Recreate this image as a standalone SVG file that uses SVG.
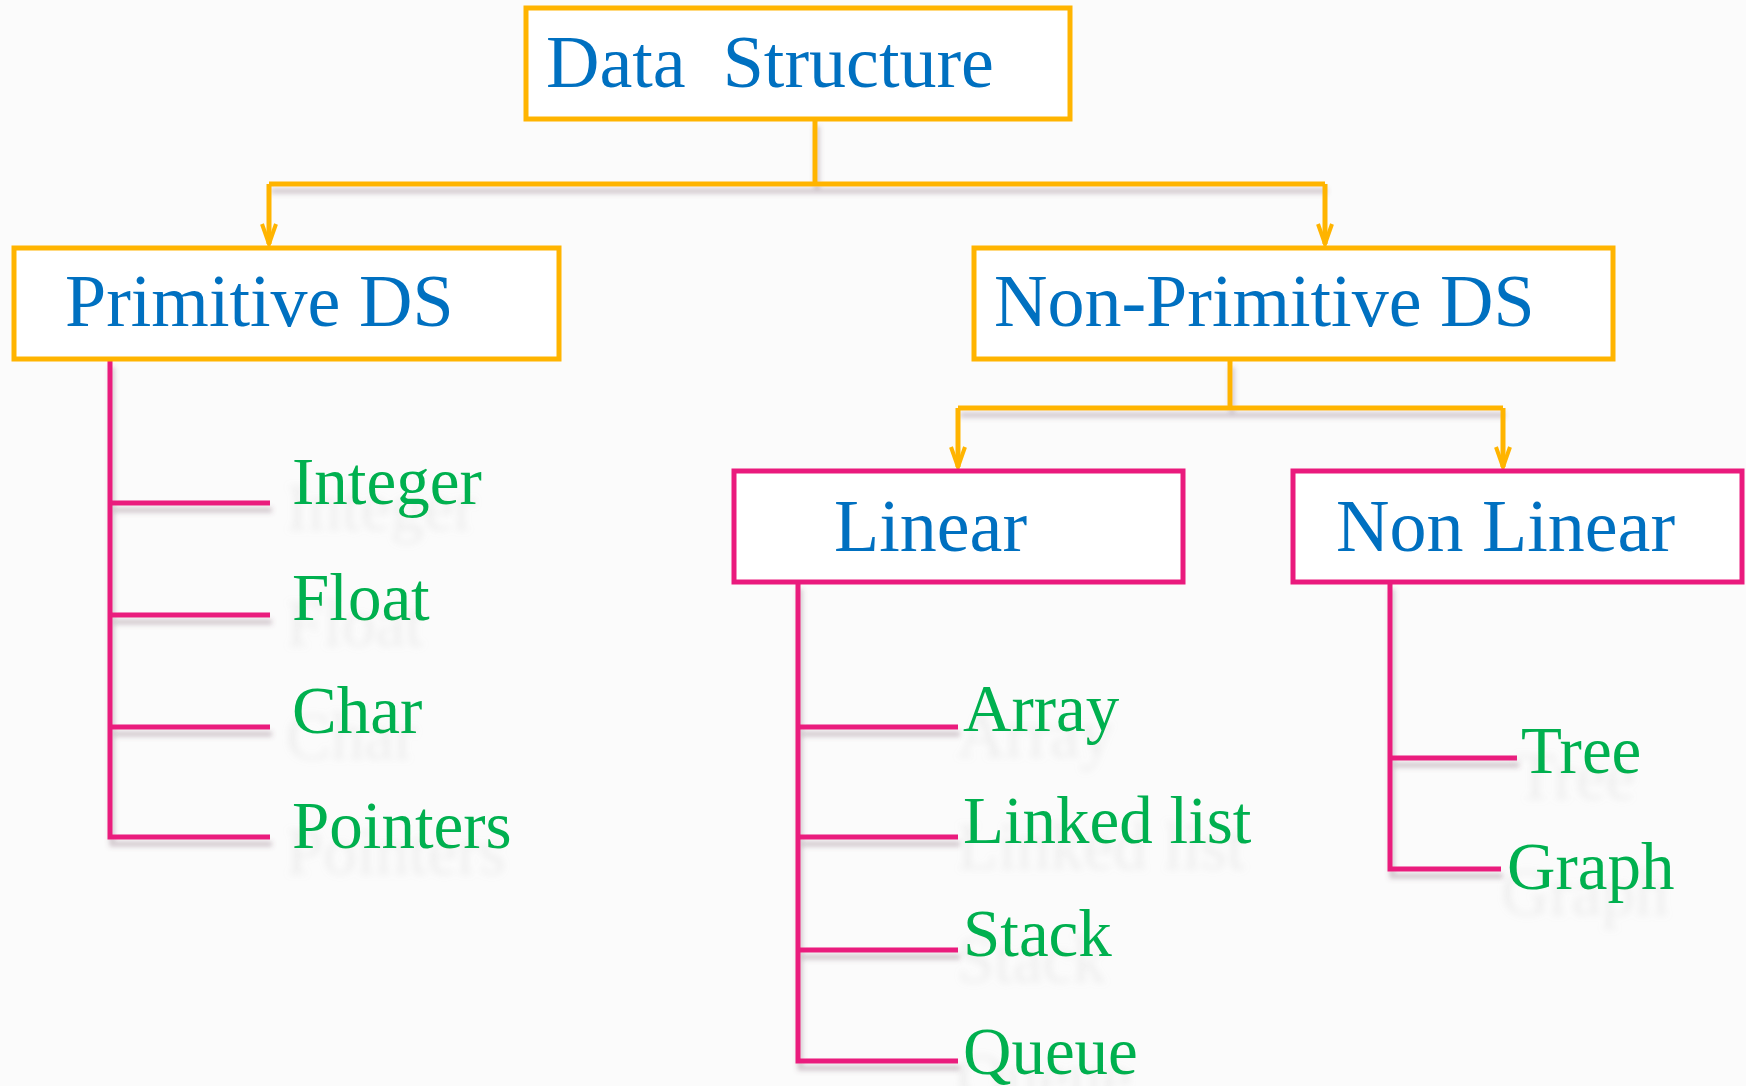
<svg xmlns="http://www.w3.org/2000/svg" width="1746" height="1086" viewBox="0 0 1746 1086">
<defs>
<marker id="chev" viewBox="-24 -12 28 24" markerWidth="28" markerHeight="24" refX="0" refY="0" orient="auto" markerUnits="userSpaceOnUse" overflow="visible">
<path d="M-20,-7 L0,0 L-20,7" fill="none" stroke="#FFB400" stroke-width="4" stroke-linejoin="miter"/>
</marker>
<filter id="lsh" x="-5%" y="-20%" width="110%" height="160%">
<feDropShadow dx="2" dy="7" stdDeviation="2.5" flood-color="#6b4a5a" flood-opacity="0.3"/>
</filter>
<filter id="tsh" x="-10%" y="-20%" width="120%" height="180%">
<feOffset in="SourceAlpha" dx="-6" dy="26" result="o"/>
<feGaussianBlur in="o" stdDeviation="3.5" result="b"/>
<feColorMatrix in="b" type="matrix" values="0 0 0 0 0.4  0 0 0 0 0.4  0 0 0 0 0.4  0 0 0 0.16 0" result="s"/>
<feMerge><feMergeNode in="s"/><feMergeNode in="SourceGraphic"/></feMerge>
</filter>
</defs>
<style>
.box-o{fill:#FFFFFF;stroke:#FFB400;stroke-width:5}
.box-p{fill:#FFFFFF;stroke:#EA1A7D;stroke-width:5}
.h{font-family:"Liberation Serif","Times New Roman",serif;font-size:74px;fill:#0070C0}
.leaf{font-family:"Liberation Serif","Times New Roman",serif;font-size:67px;fill:#00B050}
.co{fill:none;stroke:#FFB400;stroke-width:5}
.cp{fill:none;stroke:#EA1A7D;stroke-width:5}
</style>
<rect x="0" y="0" width="1746" height="1086" fill="#FBFBFB"/>

<g id="connectors">
<g filter="url(#lsh)">
<path class="co" d="M815,119 V184"/>
<path class="co" d="M269,184 H1325"/>
<path class="co" d="M1230,360 V408"/>
<path class="co" d="M958,408 H1503"/>
<path class="cp" d="M110,360 V837 H270 M110,503 H270 M110,615 H270 M110,727 H270"/>
<path class="cp" d="M798,582 V1061 H958 M798,727 H958 M798,837 H958 M798,950 H958"/>
<path class="cp" d="M1390,582 V869 H1501 M1390,758 H1517"/>
</g>
<path class="co" d="M269,184 V244" marker-end="url(#chev)"/>
<path class="co" d="M1325,184 V244" marker-end="url(#chev)"/>
<path class="co" d="M958,408 V467" marker-end="url(#chev)"/>
<path class="co" d="M1503,408 V467" marker-end="url(#chev)"/>
</g>

<g id="node-data-structure">
<rect class="box-o" x="526" y="8" width="544" height="111"/>
<text class="h" x="546" y="87" xml:space="preserve">Data  Structure</text>
</g>
<g id="node-primitive">
<rect class="box-o" x="14" y="248" width="545" height="111"/>
<text class="h" x="65" y="326">Primitive DS</text>
</g>
<g id="node-non-primitive">
<rect class="box-o" x="974" y="248" width="639" height="111"/>
<text class="h" x="994" y="326">Non-Primitive DS</text>
</g>
<g id="node-linear">
<rect class="box-p" x="734" y="471" width="449" height="111"/>
<text class="h" x="834" y="551">Linear</text>
</g>
<g id="node-non-linear">
<rect class="box-p" x="1293" y="471" width="449" height="111"/>
<text class="h" x="1336" y="551">Non Linear</text>
</g>

<g id="leaves" filter="url(#tsh)">
<g id="node-integer"><text class="leaf" x="292" y="504">Integer</text></g>
<g id="node-float"><text class="leaf" x="292" y="620">Float</text></g>
<g id="node-char"><text class="leaf" x="292" y="733">Char</text></g>
<g id="node-pointers"><text class="leaf" x="292" y="848">Pointers</text></g>
<g id="node-array"><text class="leaf" x="963" y="731">Array</text></g>
<g id="node-linked-list"><text class="leaf" x="963" y="843">Linked list</text></g>
<g id="node-stack"><text class="leaf" x="963" y="956">Stack</text></g>
<g id="node-queue"><text class="leaf" x="963" y="1074">Queue</text></g>
<g id="node-tree"><text class="leaf" x="1521" y="773">Tree</text></g>
<g id="node-graph"><text class="leaf" x="1507" y="889">Graph</text></g>
</g>
</svg>
